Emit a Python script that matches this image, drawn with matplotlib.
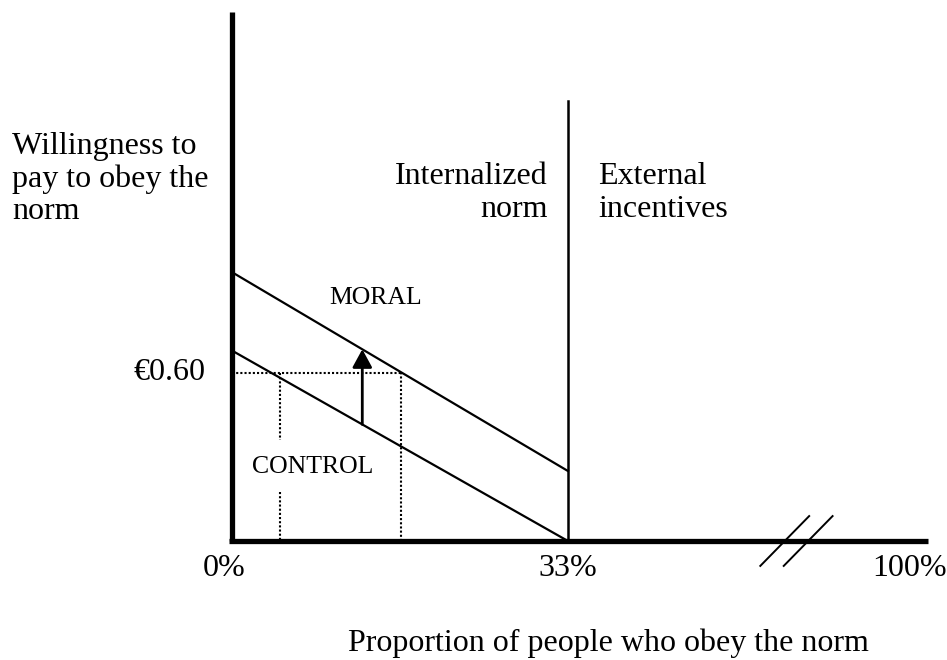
import matplotlib
matplotlib.use("Agg")
import matplotlib.pyplot as plt
import numpy as np

# proportion of people who obey the norm (%) and willingness to pay (EUR)
x_ends = [0, 33]
control_wtp = [0.68, 0.0]
moral_wtp = [0.96, 0.25]

price = 0.60
price_label = "€0.60"
obey_control = 4.7
obey_moral = 16.6
arrow_x = 12.8

tick_pos = [-0.8, 33, 66.6]
tick_labels = ["0%", "33%", "100%"]

y_top = 1.89
split_top = 1.57
x_end = 68.4
break_at = [54.3, 56.6]

plt.rcParams['font.family'] = ['Liberation Serif', 'DejaVu Serif']


def line_at(xs, ys, x):
    return np.interp(x, xs, ys)


def main():
    fig = plt.figure(figsize=(9.47, 6.6), dpi=100)
    ax = fig.add_axes([0, 0, 1, 1])
    ax.set_xlim(-22.79, 70.24)
    ax.set_ylim(-0.425, 1.932)
    ax.axis('off')

    # axes drawn by hand
    ax.plot([0, 0], [0, y_top], color='black', lw=3.8, solid_capstyle='butt')
    ax.plot([-0.25, x_end], [0, 0], color='black', lw=3.8, solid_capstyle='butt')

    # axis break
    for bx in break_at:
        ax.plot([bx - 2.4, bx + 2.4], [-0.089, 0.089], color='black', lw=1.4)

    # split between internalized norm and external incentives
    ax.plot([33, 33], [0, split_top], color='black', lw=1.8)

    ax.plot(x_ends, moral_wtp, color='black', lw=1.6)
    ax.plot(x_ends, control_wtp, color='black', lw=1.6)

    # price level and the two obedience levels
    dot = (0, (1, 1))
    ax.plot([0, obey_moral], [price, price], color='black', lw=1.5, ls=dot)
    ax.plot([obey_moral, obey_moral], [0, price], color='black', lw=1.5, ls=dot)
    ax.plot([obey_control, obey_control], [price, 0.36], color='black', lw=1.5, ls=dot)
    ax.plot([obey_control, obey_control], [0.175, 0], color='black', lw=1.5, ls=dot)

    ax.annotate(
        "",
        xy=(arrow_x, line_at(x_ends, moral_wtp, arrow_x)),
        xytext=(arrow_x, line_at(x_ends, control_wtp, arrow_x)),
        arrowprops=dict(arrowstyle='-|>,head_length=0.55,head_width=0.3',
                        mutation_scale=20, lw=2, color='black',
                        shrinkA=0, shrinkB=0),
    )

    big = 23
    ax.text(-2.65, price, price_label, fontsize=big, ha='right', va='center')
    for p, lab in zip(tick_pos, tick_labels):
        ax.text(p, -0.10, lab, fontsize=big, ha='center', va='center')

    ax.text(9.6, 0.868, "MORAL", fontsize=18.5, ha='left', va='center')
    ax.text(1.96, 0.264, "CONTROL", fontsize=18.5, ha='left', va='center')

    ax.text(31.0, 1.243, "Internalized\nnorm", fontsize=big, ha='right',
            va='center', multialignment='right', linespacing=1.15)
    ax.text(35.95, 1.243, "External\nincentives", fontsize=big, ha='left',
            va='center', multialignment='left', linespacing=1.15)

    ax.text(-21.6, 1.293, "Willingness to\npay to obey the\nnorm", fontsize=big,
            ha='left', va='center', linespacing=1.15)
    ax.text(11.4, -0.364, "Proportion of people who obey the norm",
            fontsize=big, ha='left', va='center')

    fig.savefig('out.png', dpi=100)


if __name__ == "__main__":
    main()
